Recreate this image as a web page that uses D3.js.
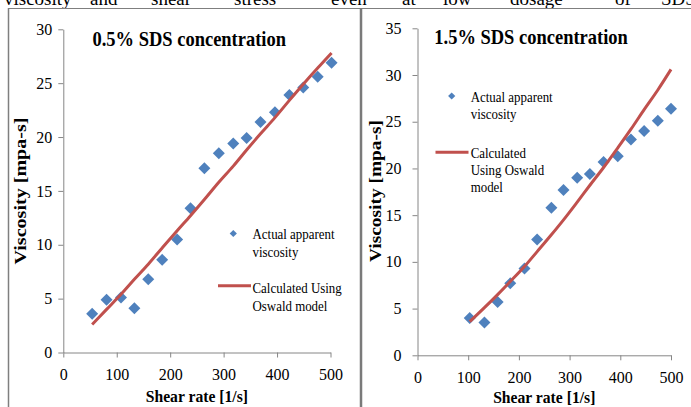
<!DOCTYPE html>
<html>
<head>
<meta charset="utf-8">
<script src="https://cdn.jsdelivr.net/npm/d3@7"></script>
<style>
  body { margin: 0; background: #fff; }
  svg, svg text { font-family: "Liberation Serif", "Tinos", "Times New Roman", "Nimbus Roman", "DejaVu Serif", serif !important; }
  svg { display: block; }
</style>
</head>
<body>
<div id="chart"></div>
<script>
// left panel: 0.5% SDS
const shearLeft = [54, 81, 108, 133, 159, 185, 213, 238, 264, 291, 318, 343, 369, 396, 423, 449, 476, 502];
const actualLeft = [3.6, 4.9, 5.1, 4.1, 6.8, 8.6, 10.5, 13.4, 17.1, 18.5, 19.4, 19.9, 21.4, 22.3, 23.9, 24.6, 25.6, 26.9];
const calcLeft = [2.6, 4.0, 5.4, 6.8, 8.2, 9.7, 11.3, 12.7, 14.2, 15.8, 17.3, 18.8, 20.3, 21.8, 23.4, 24.9, 26.4, 27.8];

// right panel: 1.5% SDS
const shearRight = [103, 132, 158, 183, 211, 236, 264, 288, 315, 340, 367, 395, 421, 447, 474, 500];
const actualRight = [4.0, 3.5, 5.7, 7.7, 9.3, 12.4, 15.8, 17.7, 19.0, 19.4, 20.7, 21.3, 23.1, 24.0, 25.1, 26.4];
const calcRight = [3.6, 5.1, 6.5, 7.9, 9.5, 11.1, 12.9, 14.5, 16.4, 18.2, 20.1, 22.2, 24.2, 26.3, 28.4, 30.6];

const xTicks = [0, 100, 200, 300, 400, 500];
const yTicksLeft = [0, 5, 10, 15, 20, 25, 30];
const yTicksRight = [0, 5, 10, 15, 20, 25, 30, 35];

// words of the page text cut off above the figure
const headerWords = ["viscosity", "and", "shear", "stress", "even", "at", "low", "dosage", "of", "SDS"];
const headerX = [4, 90, 151, 234, 331, 402, 443, 510, 615, 661];

const W = 691, H = 407;
const blue = "#4F81BD", red = "#C0504D", axisGrey = "#868686";

const svg = d3.select("#chart").append("svg")
    .attr("width", W)
    .attr("height", H);

svg.append("rect").attr("width", W).attr("height", H).attr("fill", "#fff");

// squeeze text horizontally like the original (it was scaled down)
function squeeze(sel, k) {
    sel.each(function() {
        let len = this.getComputedTextLength();
        d3.select(this).attr("textLength", len * k).attr("lengthAdjust", "spacingAndGlyphs");
    });
}

// header text
svg.selectAll(".hdr")
    .data(headerWords)
    .enter().append("text")
    .attr("class", "hdr")
    .attr("x", (d, i) => headerX[i])
    .attr("y", 5)
    .attr("font-size", 19)
    .attr("fill", "#000")
    .text(d => d);

// frame lines
svg.append("line").attr("x1", 8).attr("x2", W).attr("y1", 8.5).attr("y2", 8.5)
    .attr("stroke", "#7f7f7f").attr("stroke-width", 1.2);
svg.append("line").attr("x1", 8.5).attr("x2", 8.5).attr("y1", 8).attr("y2", H)
    .attr("stroke", "#7f7f7f").attr("stroke-width", 1.5);
svg.append("line").attr("x1", 361).attr("x2", 361).attr("y1", 8).attr("y2", H)
    .attr("stroke", "#7a7a7a").attr("stroke-width", 2.5);

function drawPanel(cfg) {
    let g = svg.append("g");

    let x = d3.scaleLinear().domain([0, 500]).range(cfg.xRange);
    let y = d3.scaleLinear().domain([0, cfg.yMax]).range(cfg.yRange);

    let xAxis = d3.axisBottom(x).tickValues(xTicks).tickSize(5).tickSizeOuter(0).tickPadding(11.5);
    let yAxis = d3.axisLeft(y).tickValues(cfg.yTicks).tickSize(5).tickSizeOuter(0).tickPadding(cfg.yPad);

    let gx = g.append("g")
        .attr("transform", "translate(0," + cfg.yRange[0] + ")")
        .call(xAxis);
    let gy = g.append("g")
        .attr("transform", "translate(" + cfg.xRange[0] + ",0)")
        .call(yAxis);

    [gx, gy].forEach(a => {
        a.attr("font-family", null).attr("font-size", null);
        a.selectAll("path, line").attr("stroke", axisGrey).attr("stroke-width", 1);
        a.selectAll("text")
            .attr("fill", "#000")
            .attr("font-size", 16);
    });

    // markers
    let diamond = d3.symbol().type(d3.symbolSquare).size(72);
    g.selectAll(".pt")
        .data(cfg.shear.map((s, i) => [s, cfg.actual[i]]))
        .enter().append("path")
        .attr("class", "pt")
        .attr("d", diamond)
        .attr("transform", d => "translate(" + x(d[0]) + "," + y(d[1]) + ") rotate(45)")
        .attr("fill", blue);

    // calculated curve
    let line = d3.line()
        .x(d => x(d[0]))
        .y(d => y(d[1]))
        .curve(d3.curveMonotoneX);
    g.append("path")
        .datum(cfg.shear.map((s, i) => [s, cfg.calc[i]]))
        .attr("d", line)
        .attr("fill", "none")
        .attr("stroke", red)
        .attr("stroke-width", 3);

    // title
    g.append("text")
        .attr("x", cfg.titleX)
        .attr("y", cfg.titleY)
        .attr("font-size", 21)
        .attr("font-weight", "bold")
        .text(cfg.title)
        .call(squeeze, 0.88);

    // axis titles
    let xMid = (cfg.xRange[0] + cfg.xRange[1]) / 2;
    g.append("text")
        .attr("x", xMid)
        .attr("y", cfg.xLabelY)
        .attr("text-anchor", "middle")
        .attr("font-size", 17)
        .attr("font-weight", "bold")
        .text("Shear rate [1/s]")
        .call(squeeze, 0.92);

    g.append("text")
        .attr("transform", "translate(" + cfg.yLabelX + ",191) rotate(-90)")
        .attr("text-anchor", "middle")
        .attr("font-size", 17)
        .attr("font-weight", "bold")
        .attr("textLength", cfg.yLabelLen)
        .attr("lengthAdjust", "spacingAndGlyphs")
        .text("Viscosity [mpa-s]");

    // legend
    let lg = cfg.legend;
    g.append("path")
        .attr("d", d3.symbol().type(d3.symbolSquare).size(26))
        .attr("transform", "translate(" + lg.dotX + "," + lg.dotY + ") rotate(45)")
        .attr("fill", blue);
    lg.actualLines.forEach((t, i) => {
        g.append("text")
            .attr("x", lg.textX1)
            .attr("y", lg.actualY + i * lg.lh)
            .attr("font-size", 15)
            .text(t)
            .call(squeeze, 0.86);
    });
    g.append("line")
        .attr("x1", lg.lineX[0]).attr("x2", lg.lineX[1])
        .attr("y1", lg.lineY).attr("y2", lg.lineY)
        .attr("stroke", red).attr("stroke-width", 3);
    lg.calcLines.forEach((t, i) => {
        g.append("text")
            .attr("x", lg.textX2)
            .attr("y", lg.calcY + i * lg.lh)
            .attr("font-size", 15)
            .text(t)
            .call(squeeze, 0.86);
    });
}

drawPanel({
    shear: shearLeft, actual: actualLeft, calc: calcLeft,
    yMax: 30, yTicks: yTicksLeft,
    xRange: [63.3, 330.5], yRange: [352.5, 29.3], yPad: 6,
    title: "0.5% SDS concentration", titleX: 92.5, titleY: 46,
    xLabelY: 402, yLabelX: 26, yLabelLen: 147,
    legend: {
        dotX: 233.3, dotY: 233.5, textX1: 252.5, actualY: 239, lh: 18.3,
        actualLines: ["Actual apparent", "viscosity"],
        lineX: [218, 251], lineY: 285.7, textX2: 252.5, calcY: 292.7,
        calcLines: ["Calculated Using", "Oswald model"]
    }
});

drawPanel({
    shear: shearRight, actual: actualRight, calc: calcRight,
    yMax: 35, yTicks: yTicksRight,
    xRange: [417.5, 671], yRange: [355.3, 28.3], yPad: 11,
    title: "1.5% SDS concentration", titleX: 434.3, titleY: 43.5,
    xLabelY: 403, yLabelX: 380.5, yLabelLen: 142,
    legend: {
        dotX: 451.7, dotY: 96, textX1: 470.7, actualY: 101.7, lh: 17,
        actualLines: ["Actual apparent", "viscosity"],
        lineX: [435.5, 468.5], lineY: 152.3, textX2: 470.7, calcY: 157.7,
        calcLines: ["Calculated", "Using Oswald", "model"]
    }
});
</script>
</body>
</html>
